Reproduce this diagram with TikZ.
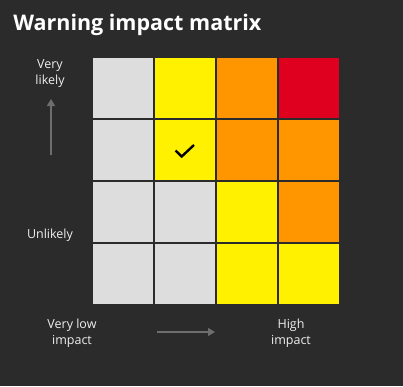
\documentclass[tikz,border=0pt]{standalone}
\usepackage{fontspec}
\setmainfont{Open Sans}
\usetikzlibrary{arrows.meta}

\definecolor{bgdark}{HTML}{2B2B2B}
\definecolor{lowgray}{HTML}{DDDDDD}
\definecolor{warnyellow}{HTML}{FFF100}
\definecolor{warnorange}{HTML}{FF9600}
\definecolor{warnred}{HTML}{DF001F}
\definecolor{axisgray}{HTML}{6E6E6E}
\definecolor{labeltext}{HTML}{EEEEEE}

\tikzset{
  lowcell/.style={fill=lowgray},
  yellowcell/.style={fill=warnyellow},
  orangecell/.style={fill=warnorange},
  redcell/.style={fill=warnred},
  axislabel/.style={text=labeltext, align=center, inner sep=0pt, font=\fontsize{12.5}{16}\selectfont},
  axisarrow/.style={draw=axisgray, line width=1.3pt, -{Triangle[length=7pt,width=8pt]}}
}

\begin{document}
\begin{tikzpicture}[x=1pt,y=-1pt,line width=0.2mm]
\fill[bgdark] (0,0) rectangle (403,386);
\useasboundingbox (0,0) rectangle (403,386);

\node[anchor=base west, inner sep=0pt, text=white, font=\bfseries\fontsize{21.5}{24}\selectfont] (title) at (13,30) {Warning impact matrix};

%top first row
\fill[lowcell] (93,58) rectangle (153,118);
\fill[yellowcell] (155,58) rectangle (215,118);
\fill[orangecell] (217,58) rectangle (277,118);
\fill[redcell] (279,58) rectangle (339,118);

%top second row
\fill[lowcell] (93,120) rectangle (153,180);
\fill[yellowcell] (155,120) rectangle (215,180);
\fill[orangecell] (217,120) rectangle (277,180);
\fill[orangecell] (279,120) rectangle (339,180);

%top third row
\fill[lowcell] (93,182) rectangle (153,242);
\fill[lowcell] (155,182) rectangle (215,242);
\fill[yellowcell] (217,182) rectangle (277,242);
\fill[orangecell] (279,182) rectangle (339,242);

%top fourth row
\fill[lowcell] (93,244) rectangle (153,304);
\fill[lowcell] (155,244) rectangle (215,304);
\fill[yellowcell] (217,244) rectangle (277,304);
\fill[yellowcell] (279,244) rectangle (339,304);

% tick in the chosen cell
\draw[black, line width=2.4pt, line join=miter] (175.5,150.5) -- (181.7,156.5) -- (194,145);

% likelihood axis
\node[axislabel] (verylikely) at (50,74) {Very\\likely};
\node[axislabel] (unlikely) at (50,235) {Unlikely};
\coordinate (likefoot) at (51,155);
\coordinate (liketop) at (51,99);
\draw[axisarrow] (likefoot) -- (liketop);

% impact axis
\node[axislabel] (verylow) at (72,333) {Very low\\impact};
\node[axislabel] (highimpact) at (291,333) {High\\impact};
\coordinate (impleft) at (157,332);
\coordinate (impright) at (215,332);
\draw[axisarrow] (impleft) -- (impright);

\end{tikzpicture}
\end{document}
